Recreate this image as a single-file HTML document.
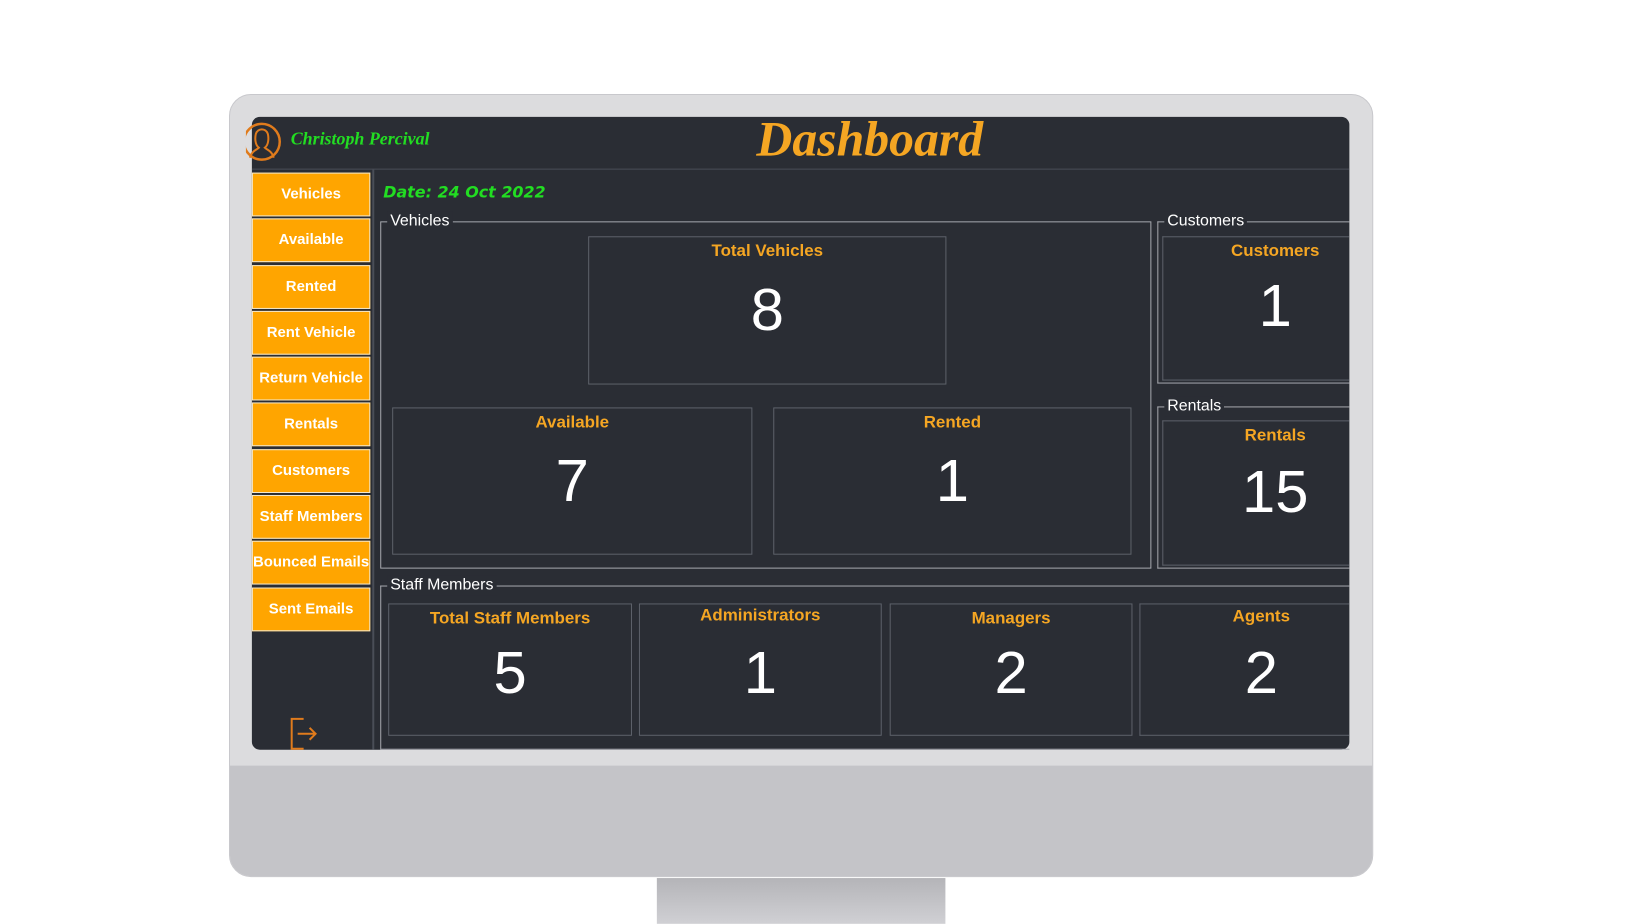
<!DOCTYPE html>
<html><head><meta charset="utf-8"><style>
*{margin:0;padding:0;box-sizing:border-box}
body{width:1640px;height:924px;background:#fff;position:relative;overflow:hidden;font-family:"Liberation Sans",sans-serif}
#w{position:absolute;left:0;top:0;width:1640px;height:924px;transform:scale(0.995);transform-origin:229px 94px}
.a{position:absolute}
.btn{position:absolute;left:252px;width:119px;height:44px;background:#ffa500;border:1px solid #f3e9d0;color:#fff;font-weight:bold;font-size:15px;text-align:center;line-height:42px;white-space:nowrap;overflow:hidden}
.grp{position:absolute;border:1px solid #a8aab0}
.grp>span{position:absolute;top:-11px;left:6px;background:#2a2d34;color:#fff;font-size:16px;padding:0 3px;line-height:20px}
.box{position:absolute;border:1px solid #5e626b;text-align:center}
.box .l{color:#f5a623;font-weight:bold;font-size:17px;margin-top:4px}
.box .n{color:#fff;font-size:60px;position:absolute;left:0;right:0}
</style></head><body><div id="w">
<div class="a" style="left:229px;top:94px;width:1150px;height:787px;background:#dcdcde;border-radius:22px;border:1px solid #c8c8cc;overflow:hidden">
 <div class="a" style="left:0;top:674px;width:100%;height:113px;background:#c4c4c8"></div>
</div>
<div class="a" style="left:659px;top:882px;width:290px;height:46px;background:linear-gradient(#b4b4b8,#d0d0d4)"></div>
<div class="a" style="left:252px;top:117px;width:1103px;height:636px;background:#2a2d34;border-radius:8px;overflow:hidden">
 <div class="a" style="left:0;top:52px;width:100%;height:1px;background:#4a4e57"></div>
 <div class="a" style="left:121px;top:53px;width:2px;height:583px;background:#4a4e57"></div>
</div>
<svg class="a" style="left:246px;top:118px" width="36" height="48" viewBox="0 0 36 48"><circle cx="16" cy="24" r="18" fill="none" stroke="#e07b1c" stroke-width="2.5"/><path d="M4 40 C6 33 11 32 13 30 C9 27 9 20 10 16 C12 10 20 10 22 16 C23 20 23 27 19 30 C21 32 26 33 28 40" fill="none" stroke="#e07b1c" stroke-width="2"/></svg>
<div class="a" style="left:291px;top:129px;color:#22dd22;font-family:'Liberation Serif',serif;font-style:italic;font-weight:bold;font-size:18px">Christoph Percival</div>
<div class="a" style="left:673px;top:110px;width:400px;text-align:center;color:#f5a623;font-family:'Liberation Serif',serif;font-style:italic;font-weight:bold;font-size:50px">Dashboard</div>
<div class="btn" style="top:173px">Vehicles</div>
<div class="btn" style="top:219px">Available</div>
<div class="btn" style="top:266px">Rented</div>
<div class="btn" style="top:312px">Rent Vehicle</div>
<div class="btn" style="top:358px">Return Vehicle</div>
<div class="btn" style="top:404px">Rentals</div>
<div class="btn" style="top:451px">Customers</div>
<div class="btn" style="top:497px">Staff Members</div>
<div class="btn" style="top:543px">Bounced Emails</div>
<div class="btn" style="top:590px">Sent Emails</div>
<svg class="a" style="left:288px;top:720px" width="34" height="34" viewBox="0 0 34 34"><path d="M16 2 H4 V32 H16" fill="none" stroke="#e07b1c" stroke-width="2"/><path d="M10 17 H28 M22 11 L28 17 L22 23" fill="none" stroke="#e07b1c" stroke-width="2"/></svg>
<div class="a" style="left:384px;top:183px;color:#22dd22;font-style:italic;font-weight:bold;font-size:16px;font-family:'DejaVu Sans',sans-serif">Date: 24 Oct 2022</div>

<div class="grp" style="left:381px;top:222px;width:775px;height:349px"><span>Vehicles</span></div>
<div class="box" style="left:590px;top:237px;width:360px;height:149px"><div class="l">Total Vehicles</div><div class="n" style="top:38px">8</div></div>
<div class="box" style="left:393px;top:409px;width:362px;height:148px"><div class="l">Available</div><div class="n" style="top:38px">7</div></div>
<div class="box" style="left:776px;top:409px;width:360px;height:148px"><div class="l">Rented</div><div class="n" style="top:38px">1</div></div>

<div class="grp" style="left:1162px;top:222px;width:193px;height:163px;border-right:none"><span>Customers</span></div>
<div class="box" style="left:1167px;top:237px;width:188px;height:145px;border-right:none"><div class="l" style="margin-right:-38px">Customers</div><div class="n" style="top:34px;right:-38px">1</div></div>
<div class="grp" style="left:1162px;top:408px;width:193px;height:163px;border-right:none"><span>Rentals</span></div>
<div class="box" style="left:1167px;top:422px;width:188px;height:146px;border-right:none"><div class="l" style="margin-right:-38px">Rentals</div><div class="n" style="top:36px;right:-38px">15</div></div>

<div class="grp" style="left:381px;top:588px;width:974px;height:165px;border-right:none"><span>Staff Members</span></div>
<div class="box" style="left:389px;top:606px;width:245px;height:133px"><div class="l">Total Staff Members</div><div class="n" style="top:34px">5</div></div>
<div class="box" style="left:641px;top:606px;width:244px;height:133px"><div class="l" style="margin-top:1px">Administrators</div><div class="n" style="top:34px">1</div></div>
<div class="box" style="left:893px;top:606px;width:244px;height:133px"><div class="l">Managers</div><div class="n" style="top:34px">2</div></div>
<div class="box" style="left:1144px;top:606px;width:211px;height:133px;border-right:none"><div class="l" style="margin-top:2px;margin-right:-33px">Agents</div><div class="n" style="top:34px;right:-33px">2</div></div>
</div></body></html>
